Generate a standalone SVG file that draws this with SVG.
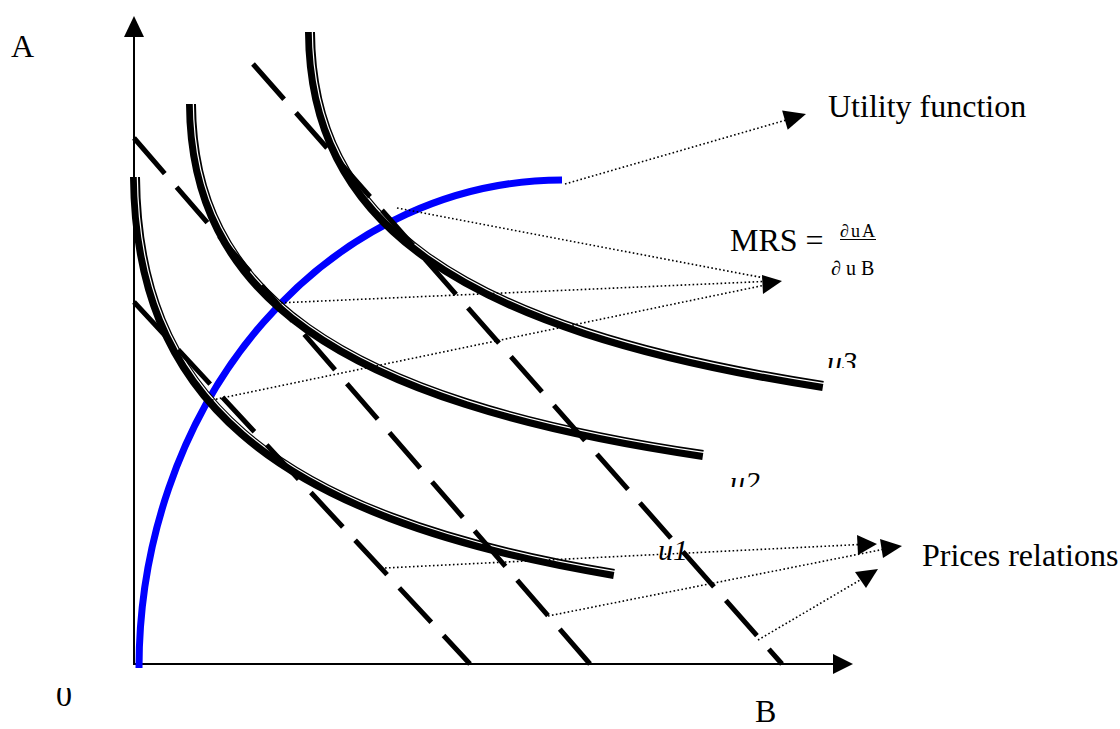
<svg xmlns="http://www.w3.org/2000/svg" width="1120" height="729" viewBox="0 0 1120 729">
<defs>
<style>
text{font-family:"Liberation Serif","Times New Roman",serif;fill:#000}
.lbl{font-size:32px}
.u{font-size:30px;font-style:italic}
.axis{stroke:#000;stroke-width:2;fill:none}
.head{fill:#000;stroke:none}
.ic{fill:none;stroke:#000;stroke-width:10}
.icw{fill:none;stroke:#fff;stroke-width:1.2}
.blue{fill:none;stroke:#0000ff;stroke-width:7}
.budget{fill:none;stroke:#000;stroke-width:5;stroke-dasharray:47 18}
.dot{fill:none;stroke:#000;stroke-width:1.6;stroke-dasharray:1.6 2.4}
</style>
<clipPath id="c3"><rect x="800" y="330" width="80" height="38"/></clipPath>
<clipPath id="c2"><rect x="700" y="450" width="80" height="37"/></clipPath>
<clipPath id="c0"><rect x="40" y="688" width="60" height="30"/></clipPath>
<path id="pu1" d="M135,177 C137,390 260,515 614,574"/>
<path id="pu2" d="M191,104 C192,290 330,400 703,455"/>
<path id="pu3" d="M310,32 C311,218 449,328 823,386"/>
</defs>

<g id="axes">
<line class="axis" x1="134" y1="665" x2="134" y2="34"/>
<polygon class="head" points="134,16 144,37 124,37"/>
<line class="axis" x1="133" y1="664" x2="835" y2="664"/>
<polygon class="head" points="853,664 833,654 833,674"/>
<text class="lbl" x="11" y="57">A</text>
<text class="lbl" x="755" y="722">B</text>
<text class="lbl" x="56" y="706" clip-path="url(#c0)">0</text>
</g>

<g id="utility-function">
<path class="blue" d="M139,668 A423,488 0 0 1 562,180"/>
</g>

<g id="u1">
<use href="#pu1" class="ic"/>
<use href="#pu1" class="icw" transform="translate(2.3,-2.3)"/>
<text class="u" x="658" y="560">u1</text>
</g>
<g id="u2">
<use href="#pu2" class="ic"/>
<use href="#pu2" class="icw" transform="translate(2.3,-2.3)"/>
<text class="u" x="730" y="492" clip-path="url(#c2)">u2</text>
</g>
<g id="u3">
<use href="#pu3" class="ic"/>
<use href="#pu3" class="icw" transform="translate(2.3,-2.3)"/>
<text class="u" x="827" y="372" clip-path="url(#c3)">u3</text>
</g>

<g id="budget-lines">
<line class="budget" x1="134" y1="302" x2="470" y2="664"/>
<line class="budget" x1="134" y1="138" x2="590" y2="664"/>
<line class="budget" x1="253" y1="64" x2="782" y2="664"/>
</g>

<g id="connectors">
<line class="dot" x1="565" y1="184" x2="800" y2="116"/>
<polygon class="head" points="806,114 787.7,129.7 782.1,110.5"/>
<line class="dot" x1="397" y1="208" x2="775" y2="280"/>
<line class="dot" x1="277" y1="303" x2="775" y2="281"/>
<line class="dot" x1="212" y1="400" x2="775" y2="283"/>
<polygon class="head" points="782,281 763,294 762,275"/>
<line class="dot" x1="385" y1="568" x2="870" y2="544"/>
<polygon class="head" points="877,544 858,555 857,535"/>
<line class="dot" x1="548" y1="616" x2="895" y2="547"/>
<polygon class="head" points="902,546 883,558 880,539"/>
<line class="dot" x1="758" y1="640" x2="872" y2="573"/>
<polygon class="head" points="878,569 866,588 855,572"/>
</g>

<g id="labels">
<text class="lbl" x="828" y="117">Utility function</text>
<text class="lbl" x="730" y="251">MRS = </text>
<text x="840" y="237" font-size="18" textLength="35">∂uA</text>
<line x1="840" y1="239.5" x2="876" y2="239.5" stroke="#000" stroke-width="1"/>
<text x="831" y="275" font-size="20">∂ u B</text>
<text class="lbl" x="922" y="566">Prices relations</text>
</g>
</svg>
